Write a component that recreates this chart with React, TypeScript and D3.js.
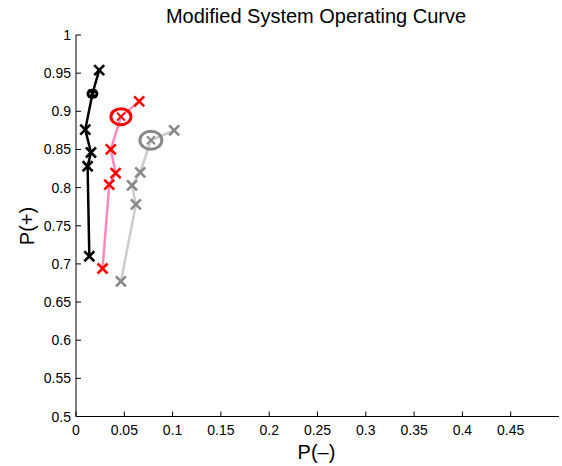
import React, { useEffect, useRef } from "react"
import * as d3 from "d3"

// P(-) / P(+) points; the second point of each is the operating point
const blackX = [0.024, 0.017, 0.0096, 0.0155, 0.012, 0.0138]
const blackY = [0.954, 0.923, 0.876, 0.846, 0.828, 0.710]

const redX = [0.0654, 0.0465, 0.036, 0.041, 0.0344, 0.0275]
const redY = [0.913, 0.893, 0.850, 0.819, 0.804, 0.694]

const grayX = [0.1016, 0.0775, 0.0665, 0.058, 0.062, 0.0465]
const grayY = [0.875, 0.862, 0.820, 0.803, 0.778, 0.677]

const opIndex = 1

const xTicks = [0, 0.05, 0.1, 0.15, 0.2, 0.25, 0.3, 0.35, 0.4, 0.45]
const yTicks = [0.5, 0.55, 0.6, 0.65, 0.7, 0.75, 0.8, 0.85, 0.9, 0.95, 1]

const W = 562
const H = 466

export default function App() {
  const ref = useRef<SVGSVGElement>(null)

  useEffect(() => {
    const svg = d3.select(ref.current)
    svg.selectAll("*").remove()

    const x = d3.scaleLinear().domain([0, 0.5]).range([76, 559])
    const y = d3.scaleLinear().domain([0.5, 1]).range([416.5, 35])

    const font = "Liberation Sans, Arial, sans-serif"

    // axes
    svg.append("line").attr("x1", x(0)).attr("x2", x(0)).attr("y1", y(1)).attr("y2", y(0.5))
      .attr("stroke", "black").attr("stroke-width", 1)
    svg.append("line").attr("x1", x(0)).attr("x2", x(0.5)).attr("y1", y(0.5)).attr("y2", y(0.5))
      .attr("stroke", "black").attr("stroke-width", 1)

    xTicks.forEach(t => {
      svg.append("line").attr("x1", x(t)).attr("x2", x(t)).attr("y1", y(0.5)).attr("y2", y(0.5) - 5)
        .attr("stroke", "black")
      svg.append("text").attr("x", x(t)).attr("y", 435).attr("text-anchor", "middle")
        .attr("font-family", font).attr("font-size", 14).text(String(t))
    })
    yTicks.forEach(t => {
      svg.append("line").attr("x1", x(0)).attr("x2", x(0) + 5).attr("y1", y(t)).attr("y2", y(t))
        .attr("stroke", "black")
      svg.append("text").attr("x", 71).attr("y", y(t) + 5).attr("text-anchor", "end")
        .attr("font-family", font).attr("font-size", 14).text(String(t))
    })

    svg.append("text").attr("x", 316).attr("y", 23).attr("text-anchor", "middle")
      .attr("font-family", font).attr("font-size", 20).text("Modified System Operating Curve")
    svg.append("text").attr("x", 316.5).attr("y", 459).attr("text-anchor", "middle")
      .attr("font-family", font).attr("font-size", 20).text("P(\u2013)")
    svg.append("text").attr("transform", "translate(34,226) rotate(-90)").attr("text-anchor", "middle")
      .attr("font-family", font).attr("font-size", 20).text("P(+)")

    const series = [
      { xs: blackX, ys: blackY, line: "black", mark: "black", rx: 4.5, ry: 3.5 },
      { xs: redX, ys: redY, line: "#ff88bb", mark: "red", rx: 10, ry: 8 },
      { xs: grayX, ys: grayY, line: "#cccccc", mark: "#888888", rx: 11, ry: 9 },
    ]

    const line = d3.line<[number, number]>().x(d => x(d[0])).y(d => y(d[1]))

    series.forEach(s => {
      const pts = s.xs.map((v, i) => [v, s.ys[i]] as [number, number])
      svg.append("path").attr("d", line(pts)).attr("fill", "none")
        .attr("stroke", s.line).attr("stroke-width", 2.5)
      pts.forEach((p, i) => {
        const cx = x(p[0]), cy = y(p[1])
        const r = i === opIndex ? 4 : 5
        svg.append("path")
          .attr("d", `M${cx - r},${cy - r}L${cx + r},${cy + r}M${cx - r},${cy + r}L${cx + r},${cy - r}`)
          .attr("stroke", s.mark).attr("stroke-width", i === opIndex ? 2 : 2.6).attr("fill", "none")
        if (i === opIndex) {
          svg.append("ellipse").attr("cx", cx).attr("cy", cy)
            .attr("rx", s.rx).attr("ry", s.ry).attr("fill", "none")
            .attr("stroke", s.mark).attr("stroke-width", 3)
        }
      })
    })
  }, [])

  return <svg ref={ref} width={W} height={H} style={{ position: "absolute", left: 0, top: 0, background: "white" }} />
}
